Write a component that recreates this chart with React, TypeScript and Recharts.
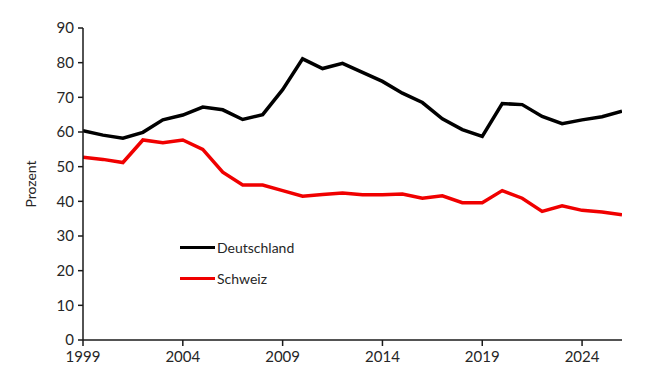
import { LineChart, Line, XAxis, YAxis, Legend } from "recharts";

const years = [
  1999, 2000, 2001, 2002, 2003, 2004, 2005, 2006, 2007, 2008, 2009, 2010, 2011, 2012,
  2013, 2014, 2015, 2016, 2017, 2018, 2019, 2020, 2021, 2022, 2023, 2024, 2025, 2026,
];
const deutschland = [
  60.4, 59.1, 58.2, 59.9, 63.5, 64.9, 67.2, 66.4, 63.6, 65.0, 72.2, 81.1, 78.3, 79.8,
  77.2, 74.6, 71.2, 68.5, 63.8, 60.7, 58.7, 68.2, 67.9, 64.5, 62.4, 63.5, 64.4, 66.0,
];
const schweiz = [
  52.7, 52.1, 51.2, 57.7, 56.9, 57.7, 55.0, 48.4, 44.7, 44.7, 43.1, 41.5, 42.0, 42.4,
  41.9, 41.9, 42.1, 40.9, 41.6, 39.6, 39.6, 43.1, 40.9, 37.1, 38.7, 37.4, 36.9, 36.1,
];
const xTicks = [1999, 2004, 2009, 2014, 2019, 2024];
const yTicks = [0, 10, 20, 30, 40, 50, 60, 70, 80, 90];

const data = years.map((year, i) => ({
  year,
  Deutschland: deutschland[i],
  Schweiz: schweiz[i],
}));

const FONT = "Lato, 'Open Sans', sans-serif";
const TEXT = "#262626";

function LegendBox(props: any) {
  const items = props.payload || [];
  return (
    <div style={{ fontFamily: FONT, fontSize: 14, color: TEXT }}>
      {items.map((it: any) => (
        <div key={it.value} style={{ display: "flex", alignItems: "center", height: 31 }}>
          <span style={{ display: "inline-block", width: 35, height: 3.5, background: it.color, marginRight: 2 }} />
          <span>{it.value}</span>
        </div>
      ))}
    </div>
  );
}

export default function App() {
  return (
    <div style={{ position: "absolute", left: 0, top: 0, background: "#fff" }}>
      <LineChart width={646} height={387} data={data} margin={{ top: 28, right: 24, left: 0, bottom: 0 }}>
        <XAxis
          dataKey="year"
          type="number"
          domain={[1999, 2026]}
          ticks={xTicks}
          allowDataOverflow
          height={47}
          tickSize={6}
          stroke="#1a1a1a"
          strokeWidth={1.5}
          tick={{ fill: TEXT, fontSize: 15, fontFamily: FONT }}
          tickMargin={5}
        />
        <YAxis
          domain={[0, 90]}
          ticks={yTicks}
          width={83}
          tickSize={5}
          stroke="#1a1a1a"
          strokeWidth={1.5}
          tick={{ fill: TEXT, fontSize: 15, fontFamily: FONT }}
          tickMargin={4}
          label={{
            value: "Prozent",
            angle: -90,
            position: "insideLeft",
            offset: 31,
            style: { fill: TEXT, fontSize: 14, fontFamily: FONT, textAnchor: "middle" },
          }}
        />
        <Legend
          layout="vertical"
          verticalAlign="middle"
          align="center"
          content={<LegendBox />}
          wrapperStyle={{ left: 180, top: 232, width: 160 }}
        />
        <Line
          dataKey="Deutschland"
          stroke="#000"
          strokeWidth={3.5}
          dot={false}
          isAnimationActive={false}
        />
        <Line
          dataKey="Schweiz"
          stroke="#f00000"
          strokeWidth={3.5}
          dot={false}
          isAnimationActive={false}
        />
      </LineChart>
    </div>
  );
}
